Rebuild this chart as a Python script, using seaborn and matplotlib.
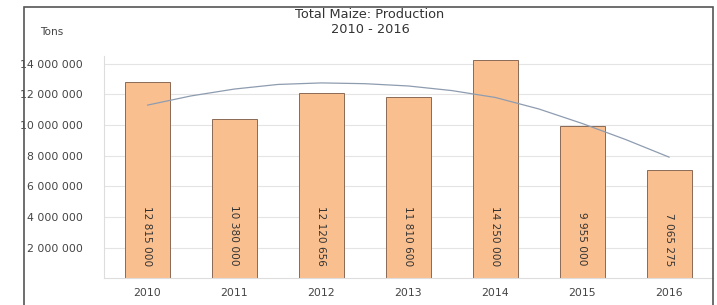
import numpy as np
import pandas as pd
import matplotlib.pyplot as plt
import seaborn as sns
from matplotlib.patches import Rectangle

years = ["2010", "2011", "2012", "2013", "2014", "2015", "2016"]
production = [12815000, 10380000, 12120656, 11810600, 14250000, 9955000, 7065275]
bar_labels = ["12 815 000", "10 380 000", "12 120 656", "11 810 600",
              "14 250 000", "9 955 000", "7 065 275"]
# trend line (at each year and half year)
trend_pos = [0, 0.5, 1, 1.5, 2, 2.5, 3, 3.5, 4, 4.5, 5, 5.5, 6]
trend_val = [11.3e6, 11.9e6, 12.35e6, 12.65e6, 12.75e6, 12.7e6, 12.55e6,
             12.25e6, 11.8e6, 11.05e6, 10.1e6, 9.05e6, 7.9e6]
ytick_vals = [2e6, 4e6, 6e6, 8e6, 10e6, 12e6, 14e6]

df = pd.DataFrame({"Year": years, "Production": production})

sns.set_style("white")
plt.rcParams['font.family'] = ['DejaVu Sans']

fig = plt.figure(figsize=(7.17, 3.05), dpi=100)
ax = fig.add_axes([0.145, 0.088, 0.849, 0.728])

sns.barplot(data=df, x="Year", y="Production", color="#FABF8F",
            saturation=1, width=0.52, edgecolor="#8a6a55", linewidth=0.7,
            ax=ax, zorder=2)

ax.plot(trend_pos, trend_val, color="#8e9cb0", linewidth=0.9, zorder=3)

for i, lab in enumerate(bar_labels):
    ax.text(i, 0.8e6, lab, rotation=-90, ha="center", va="bottom",
            fontsize=7.6, color="#333333", zorder=4)

ax.set_xlim(-0.5, 6.5)
ax.set_ylim(0, 14.5e6)
ax.set_yticks(ytick_vals)
ax.set_yticklabels([f"{int(v):,}".replace(",", " ") for v in ytick_vals])
ax.yaxis.grid(True, color="#e4e4e4", linewidth=0.8, zorder=0)
ax.set_axisbelow(True)
ax.set_xlabel("")
ax.set_ylabel("")
ax.tick_params(axis="y", labelsize=7.8, labelcolor="#444444", length=3,
               color="#dddddd", pad=12)
ax.tick_params(axis="x", labelsize=7.8, labelcolor="#444444", length=0, pad=7)
for s in ["top", "right"]:
    ax.spines[s].set_visible(False)
for s in ["left", "bottom"]:
    ax.spines[s].set_color("#dddddd")
    ax.spines[s].set_linewidth(0.8)

fig.text(0.516, 0.953, "Total Maize: Production", ha="center", va="center",
         fontsize=9.3, color="#333333")
fig.text(0.516, 0.903, "2010 - 2016", ha="center", va="center",
         fontsize=9.3, color="#333333")
fig.text(0.056, 0.895, "Tons", ha="left", va="center", fontsize=7.6,
         color="#444444")

fig.patches.append(Rectangle((0.034, -0.1), 0.96, 1.077, transform=fig.transFigure,
                             fill=False, edgecolor="#555555", linewidth=1.2))

fig.savefig("out.png", dpi=100)
